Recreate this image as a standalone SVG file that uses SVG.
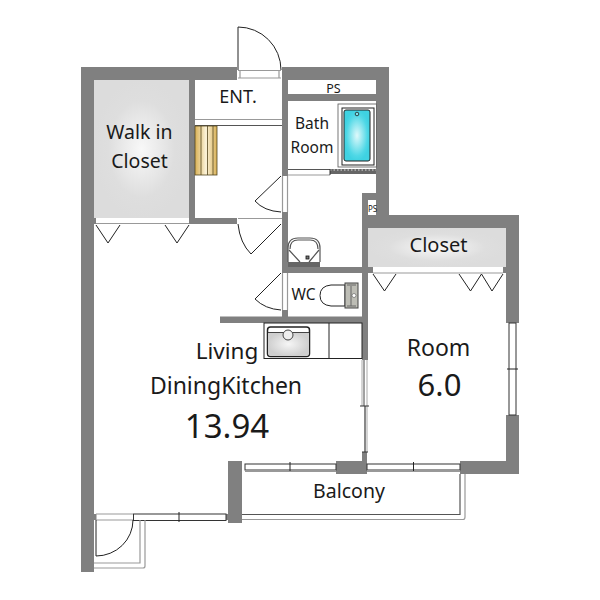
<svg xmlns="http://www.w3.org/2000/svg" width="600" height="600" viewBox="0 0 600 600">
<style>
.wall{fill:#808080}
.line{fill:none;stroke:#222;stroke-width:1}
.door{fill:#fff;stroke:#222;stroke-width:1}
.thin{fill:none;stroke:#999;stroke-width:1.2}
.dark{fill:none;stroke:#555;stroke-width:1.2}
.win{fill:#fff;stroke:#333;stroke-width:1}
text{font-family:"Noto Sans","DejaVu Sans",sans-serif;fill:#1a1a1a;text-anchor:middle}
</style>
<defs>
<radialGradient id="gray"><stop offset="0" stop-color="#f8f8f8"/><stop offset="0.7" stop-color="#dedede"/><stop offset="1" stop-color="#dcdcdc"/></radialGradient>
<linearGradient id="gold"><stop offset="0" stop-color="#d8b055"/><stop offset="0.5" stop-color="#fbf3da"/><stop offset="1" stop-color="#d8b055"/></linearGradient>
<radialGradient id="blue"><stop offset="0" stop-color="#dff9fb"/><stop offset="0.8" stop-color="#4fd8e6"/><stop offset="1" stop-color="#3fd2e2"/></radialGradient>
<radialGradient id="sink"><stop offset="0" stop-color="#f6f6f6"/><stop offset="1" stop-color="#cfcfcf"/></radialGradient>
</defs>
<rect width="600" height="600" fill="#fff"/>
<g id="walls">
<path class="wall" d="M81 67H237V80H195V218H237V224H189V80H94V572H81Z"/>
<path class="wall" d="M282 67H389V215H519V323H506V228H368V360H362V200H376V101H288V176H282Z"/>
<rect x="288" y="80" width="88" height="14" fill="#fff"/>
<rect class="wall" x="362" y="193" width="14" height="7"/>
<rect class="wall" x="282" y="212" width="6" height="61"/>
<rect class="wall" x="282" y="310" width="6" height="7"/>
<rect class="wall" x="220" y="316.500" width="142" height="6.500"/>
<rect class="wall" x="288" y="267" width="74" height="6"/>
<rect class="wall" x="362" y="452" width="5" height="10"/>
<rect class="wall" x="336" y="461" width="31" height="13"/>
<rect class="wall" x="228" y="461" width="14" height="62"/>
<path class="wall" d="M460 461H506V415H519V474H460Z"/>
<rect class="wall" x="94" y="218" width="2" height="6"/>
<rect class="wall" x="94" y="514" width="2.500" height="6"/>
<rect class="wall" x="367" y="267" width="6" height="6"/>
<rect class="wall" x="503" y="267" width="3" height="6"/>
<rect class="wall" x="226" y="514" width="2" height="6"/>
</g>
<g id="walk-in-closet">
<rect x="94" y="80" width="95" height="138" fill="url(#gray)"/>
<path class="thin" d="M96 223.500H189"/>
<path class="line" d="M96 225L108 243L120 225M165 225L177 243L189 225"/>
<text x="139.500" y="139" font-size="19.500">Walk in</text>
<text x="139.500" y="167.500" font-size="19.500">Closet</text>
</g>
<g id="entrance">
<path class="thin" d="M238 70.500H281M238 78H281M240 70V78M279 70V78"/>
<path class="line" d="M238 70V27A43 43 0 0 1 281 70"/>
<path class="thin" d="M195 119.500H282"/>
<path class="dark" d="M195 125.500H282"/>
<text x="238" y="103" font-size="18">ENT.</text>
</g>
<g id="shoe-storage">
<rect x="195" y="126" width="22" height="49" fill="url(#gold)" stroke="#54461f" stroke-width="0.8"/>
<path d="M201 126V175M207.500 126V175M213 126V175" stroke="#54461f" stroke-width="0.8" fill="none"/>
</g>
<g id="doors">
<path class="line" d="M281 176L255 201Q264 211 281 212"/>
<path class="thin" d="M282.500 176V212M287.500 176V212"/>
<path class="line" d="M238 224Q240 243 251 254L281 224"/>
<path class="thin" d="M238 218.500H282"/>
<path class="line" d="M281 273L255 299Q265 309 281 310"/>
<path class="thin" d="M282.500 273V310M287.500 273V310"/>
</g>
<g id="ps">
<text x="333.500" y="92.500" font-size="12.500">PS</text>
<rect x="368" y="200" width="8" height="15" fill="#fff"/>
<text x="372.500" y="212" font-size="8" fill="#555">PS</text>
</g>
<g id="bath-room">
<rect x="338" y="104" width="38.500" height="63" fill="#fff" stroke="#555" stroke-width="0.8"/>
<rect x="342" y="108" width="32" height="57" fill="#fff" stroke="#222" stroke-width="1"/>
<rect x="344" y="110" width="26" height="51" rx="2" fill="url(#blue)" stroke="#222" stroke-width="1"/>
<circle cx="357" cy="114" r="1.800" fill="#7fe3ec" stroke="#222" stroke-width="0.8"/>
<rect x="330" y="169" width="46" height="5" fill="#666"/>
<path d="M330 170H376" stroke="#ddd" stroke-width="1" stroke-dasharray="1.500 2"/>
<path class="dark" d="M288 169.500H330"/>
<path class="thin" d="M288 175H330"/>
<path d="M330 169V175" stroke="#333" stroke-width="1"/>
<text x="312" y="129" font-size="15.500">Bath</text>
<text x="312" y="153" font-size="15.500">Room</text>
</g>
<g id="washbasin">
<rect x="288" y="262" width="32" height="5" fill="#666"/>
<path class="dark" d="M288 262V248Q288 238 298 238H310Q320 238 320 248V262"/>
<path class="dark" d="M290 249Q290 240 298 240H310Q318 240 318 249M289 250L300 262M319 250L309 262"/>
<rect x="306" y="256" width="3" height="3" fill="#777" stroke="#111" stroke-width="0.8"/>
</g>
<g id="wc">
<path class="door" d="M345 285H331Q320 286 320 295.500Q320 305 331 306H345Z"/>
<rect x="345" y="283" width="13" height="25" fill="#bdbdb5" stroke="#444" stroke-width="1"/>
<path d="M347 285H356M347 306H356M351 286V306" stroke="#666" stroke-width="1" fill="none"/>
<circle cx="354" cy="295.500" r="2" fill="#fff" stroke="#555" stroke-width="0.6"/>
<text x="303.500" y="300" font-size="15.500">WC</text>
</g>
<g id="kitchen">
<rect x="264" y="323" width="98" height="35.500" class="door"/>
<path class="line" d="M329 323V358"/>
<rect x="267.500" y="327" width="42" height="29.500" rx="3" fill="#fff" stroke="#222" stroke-width="1.500"/>
<rect x="268" y="332" width="41" height="24" rx="3" fill="url(#sink)"/>
<path d="M268 332.500H309" stroke="#444" stroke-width="1"/>
<circle cx="288" cy="335" r="5" fill="#eee" stroke="#444" stroke-width="1"/>
</g>
<g id="ldk">
<rect x="362.500" y="360" width="4.500" height="92" fill="#fff"/>
<path d="M364 360V406" stroke="#444" fill="none"/>
<path d="M365 406V452" stroke="#888" stroke-width="2" fill="none"/>
<path d="M362 360V406M367 360V452" stroke="#aaa" fill="none"/>
<path d="M360 406H369M362 452H368" stroke="#333" fill="none"/>
<text x="227" y="359" font-size="22.500">Living</text>
<text x="226" y="394" font-size="23">DiningKitchen</text>
<text x="227" y="438" font-size="33">13.94</text>
</g>
<g id="closet">
<rect x="368" y="228" width="138" height="39" fill="url(#gray)"/>
<path class="thin" d="M373 273H503"/>
<path class="line" d="M373 274L384.500 291L396 274M459 274L470.500 291L481.500 274L492 291L503 274"/>
<text x="438.500" y="252" font-size="20">Closet</text>
</g>
<g id="room">
<rect class="win" x="509" y="323" width="7" height="92"/>
<path class="line" d="M507 369H518"/>
<text x="438.500" y="356" font-size="23">Room</text>
<text x="439.500" y="396" font-size="31">6.0</text>
</g>
<g id="balcony">
<rect class="win" x="367" y="464" width="93" height="6"/>
<path class="line" d="M413.500 462V472"/>
<rect class="win" x="245" y="464" width="91" height="6"/>
<path class="line" d="M290 462V472"/>
<path class="thin" d="M367 471.500H460M245 471.500H336"/>
<path class="dark" d="M242 514.500H460V474"/>
<path class="thin" d="M242 519.500H463Q465 519.500 465 517V474"/>
<text x="349" y="498" font-size="19.500">Balcony</text>
</g>
<g id="entry-balcony">
<rect class="win" x="133.500" y="514" width="92.500" height="6.500"/>
<path class="line" d="M179 512V522"/>
<path class="thin" d="M96 514H133M96 520H133"/>
<path class="line" d="M96 520V556A37 36 0 0 0 133 520"/>
<path class="thin" d="M94 563H140V520M94 568H143Q145 568 145 566V520"/>
</g>
</svg>
